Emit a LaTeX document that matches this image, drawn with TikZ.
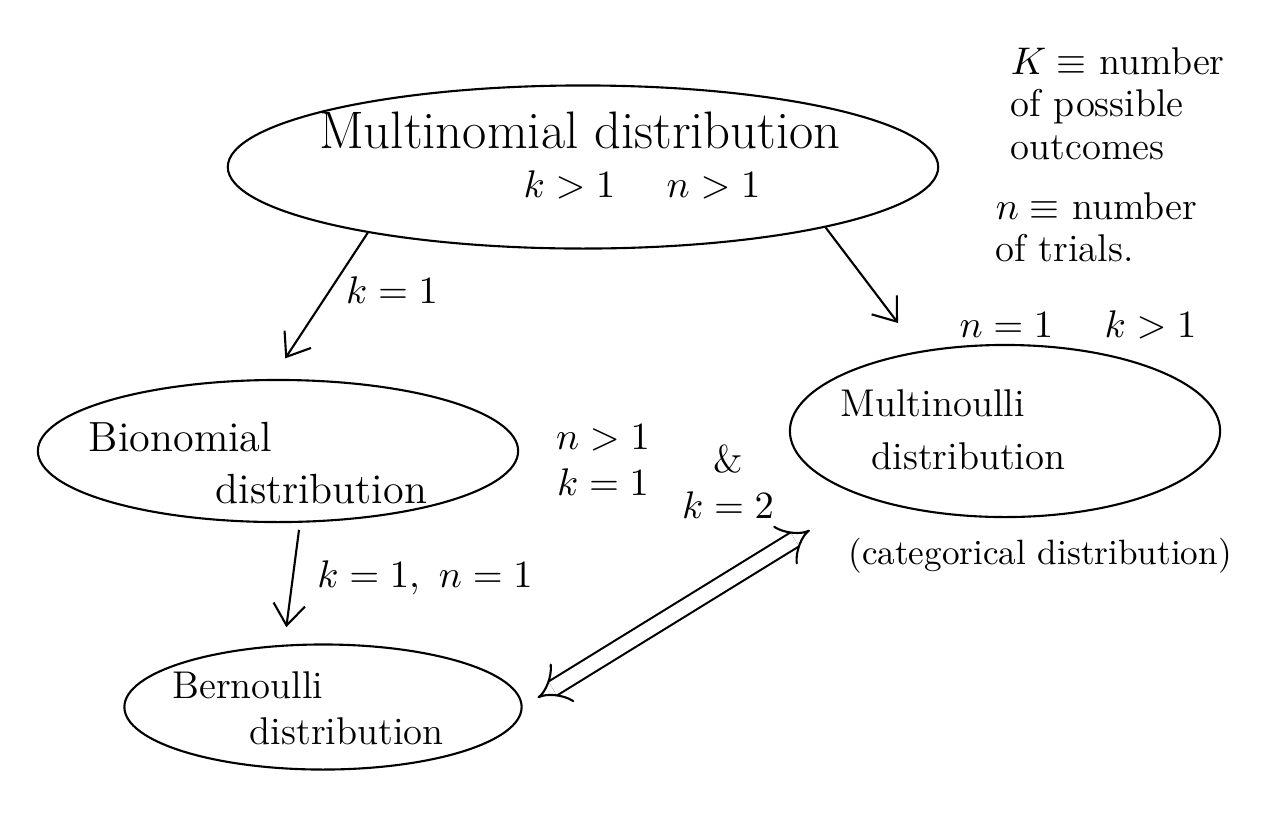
\documentclass[tikz,border=0pt]{standalone}
\usetikzlibrary{shapes.geometric,arrows.meta,positioning}

\begin{document}
\begin{tikzpicture}[
		x=0.01cm,y=-0.01cm,
		line width=0.6pt,
		dist/.style={draw,ellipse,inner sep=0pt},
		distlabel/.style={align=left,inner sep=1pt},
		cond/.style={align=center,font=\fontsize{11}{13}\selectfont},
		note/.style={align=left,anchor=north west,font=\fontsize{11}{12}\selectfont},
		flow/.style={-{Straight Barb[length=6pt,width=9pt]}},
	]
	\useasboundingbox[fill=white] (0,0) rectangle (1280,827);
	% distributions
	\node[dist,minimum width=7.1cm,minimum height=1.63cm] (multi) at (583,167) {};
	\node[dist,minimum width=4.8cm,minimum height=1.42cm] (bino) at (278,451) {};
	\node[dist,minimum width=3.97cm,minimum height=1.25cm] (bern) at (323,707) {};
	\node[dist,minimum width=4.3cm,minimum height=1.72cm] (mnoulli) at (1005,431) {};
	% names
	\node[distlabel,font=\fontsize{15}{18}\selectfont] (multitxt) at (580,130) {Multinomial distribution};
	\node[cond,font=\fontsize{11}{13}\selectfont] (multicond) at (642,185) {$k>1$\quad\ $n>1$};
	\node[distlabel,font=\fontsize{12}{15}\selectfont] (binotxt) at (258,463) {Bionomial\\\hspace*{3em}distribution};
	\node[distlabel,font=\fontsize{11}{13}\selectfont] (berntxt) at (308,708) {Bernoulli\\\hspace*{2em}distribution};
	\node[distlabel,font=\fontsize{11}{15}\selectfont] (mnoullitxt) at (953,430) {Multinoulli\\\hspace*{0.8em}distribution};
	\node[cond,font=\fontsize{10}{12}\selectfont,below=2pt of mnoulli,xshift=0.35cm]
		(catg) {(categorical distribution)};
	% definitions
	\node[note] (defk) at (998,35) {$K\equiv$ number\\of possible\\outcomes};
	\node[note] (defn) at (983,180) {$n\equiv$ number\\of trials.};
	% connectors
	\draw[flow,shorten >=7pt] (multi.197) -- (bino.95);
	\draw[flow,shorten >=10pt] (multi.-14) -- (mnoulli.137);
	\draw[flow,shorten <=2pt,shorten >=5pt] (bino.287) -- (bern.122);
	\draw[double,double distance=4pt,{Implies}-{Implies},shorten <=5pt,shorten >=18pt]
		(bern.east) -- (mnoulli.205);
	% conditions
	\node[cond] (lk) at (392,290) {$k=1$};
	\node[cond] (lnk) at (1078,325) {$n=1$\quad\ $k>1$};
	\node[cond] (lkn) at (425,578) {$k=1,\ n=1$};
	\node[cond] (lnb) at (603,460) {$n>1$\\$k=1$};
	\node[cond] (lkk) at (728,482) {\&\\$k=2$};
\end{tikzpicture}
\end{document}
